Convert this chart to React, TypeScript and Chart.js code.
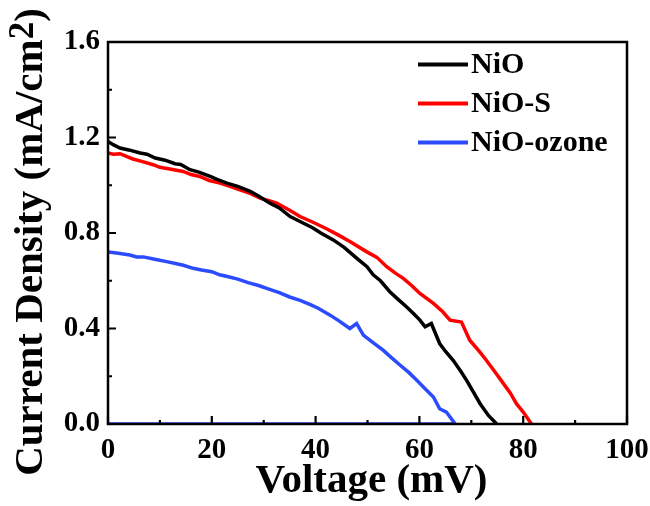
import React, { useEffect, useRef } from "react";
import { Chart, registerables } from "chart.js";

Chart.register(...registerables);

const FONT = "'Liberation Serif', 'Times New Roman', serif";

const xTicks = [0, 20, 40, 60, 80, 100];
const xMinorTicks = [10, 30, 50, 70, 90];
const yTicks = [0, 0.4, 0.8, 1.2, 1.6];
const yMinorTicks = [0.2, 0.6, 1.0, 1.4];

const xTitle = "Voltage (mV)";
const yTitleMain = "Current Density (mA/cm";
const yTitleSup = "2";
const yTitleEnd = ")";

const seriesLabels = ["NiO", "NiO-S", "NiO-ozone"];
const seriesColors = ["#000000", "#ff0000", "#2a4bff"];

const nioV = [0, 1, 2.3, 4, 6.2, 7.5, 9.1, 11, 12.9, 14, 15.8, 17.5, 19.7, 21, 22.9, 25, 27.4, 29, 31.2, 33, 35.1, 37, 39.5, 41, 43.4, 45.5, 47.9, 49.9, 51.1, 52.5, 54.3, 56, 57.5, 59, 60.1, 61.1, 62.3, 63.9, 65, 66.5, 68, 69.1, 70.5, 71.7, 73.3, 74.9];
const nioJ = [1.183, 1.17, 1.156, 1.148, 1.135, 1.13, 1.114, 1.105, 1.09, 1.087, 1.065, 1.055, 1.037, 1.025, 1.009, 0.995, 0.974, 0.955, 0.925, 0.905, 0.869, 0.848, 0.821, 0.8, 0.771, 0.74, 0.695, 0.659, 0.625, 0.6, 0.554, 0.52, 0.491, 0.46, 0.435, 0.407, 0.421, 0.337, 0.305, 0.267, 0.22, 0.183, 0.13, 0.085, 0.036, 0];

const nioSV = [0, 1, 2.3, 4.8, 6.5, 8.7, 10, 11.9, 14.5, 16, 17.7, 19.5, 21.6, 23.5, 25.4, 27.5, 29.3, 31, 32.5, 35, 37, 39.5, 42.1, 44.5, 46.6, 49.8, 51.8, 53.7, 55.5, 56.9, 58.5, 60.1, 62.7, 64.5, 65.9, 68.1, 69.7, 71.5, 72.9, 74.5, 76.2, 77.5, 78.7, 80, 81.6];
const nioSJ = [1.135, 1.13, 1.132, 1.11, 1.1, 1.086, 1.075, 1.068, 1.058, 1.045, 1.037, 1.02, 1.009, 0.995, 0.981, 0.965, 0.946, 0.935, 0.925, 0.895, 0.869, 0.845, 0.818, 0.79, 0.764, 0.722, 0.698, 0.659, 0.63, 0.61, 0.58, 0.547, 0.505, 0.47, 0.435, 0.427, 0.351, 0.305, 0.267, 0.22, 0.169, 0.13, 0.085, 0.05, 0];

const ozoneV = [0, 2, 4.2, 5.5, 6.8, 9, 11.3, 13, 14.5, 16.4, 18, 20, 21.5, 23, 25, 27, 29, 31, 33, 35, 37, 39, 40.5, 42.8, 44.5, 46.6, 47.9, 49.2, 51, 53, 54.5, 56.3, 58, 59.5, 61, 62.7, 63.9, 65.2, 66.9, 0];
const ozoneJ = [0.72, 0.715, 0.708, 0.7, 0.7, 0.69, 0.68, 0.672, 0.665, 0.652, 0.645, 0.638, 0.625, 0.618, 0.607, 0.592, 0.58, 0.565, 0.55, 0.532, 0.518, 0.5, 0.485, 0.456, 0.432, 0.4, 0.421, 0.372, 0.342, 0.309, 0.28, 0.246, 0.215, 0.183, 0.15, 0.113, 0.064, 0.05, 0, 0];

const seriesV = [nioV, nioSV, ozoneV];
const seriesJ = [nioJ, nioSJ, ozoneJ];

const framePlugin = {
  id: "framePlugin",
  afterDatasetsDraw(chart: any) {
    const { ctx, chartArea: a, scales } = chart;
    const xs = scales.x;
    const ys = scales.y;
    ctx.save();
    // frame
    ctx.strokeStyle = "#000";
    ctx.lineWidth = 2.5;
    ctx.strokeRect(a.left, a.top, a.right - a.left, a.bottom - a.top);
    // inward ticks
    ctx.lineWidth = 2.2;
    ctx.beginPath();
    xTicks.forEach((v) => {
      const p = xs.getPixelForValue(v);
      ctx.moveTo(p, a.bottom);
      ctx.lineTo(p, a.bottom - 8);
    });
    xMinorTicks.forEach((v) => {
      const p = xs.getPixelForValue(v);
      ctx.moveTo(p, a.bottom);
      ctx.lineTo(p, a.bottom - 4);
    });
    yTicks.forEach((v) => {
      const p = ys.getPixelForValue(v);
      ctx.moveTo(a.left, p);
      ctx.lineTo(a.left + 8, p);
    });
    yMinorTicks.forEach((v) => {
      const p = ys.getPixelForValue(v);
      ctx.moveTo(a.left, p);
      ctx.lineTo(a.left + 4, p);
    });
    ctx.stroke();

    // legend
    const lx = a.right - 209;
    chart.data.datasets.forEach((ds: any, i: number) => {
      const ly = a.top + 22.5 + i * 39;
      ctx.strokeStyle = ds.borderColor;
      ctx.lineWidth = 4;
      ctx.beginPath();
      ctx.moveTo(lx, ly);
      ctx.lineTo(lx + 50, ly);
      ctx.stroke();
      ctx.fillStyle = "#000";
      ctx.font = `bold 30px ${FONT}`;
      ctx.textAlign = "left";
      ctx.textBaseline = "middle";
      ctx.fillText(ds.label, lx + 53, ly + 1);
    });

    // x title
    ctx.fillStyle = "#000";
    ctx.font = `bold 41px ${FONT}`;
    ctx.textAlign = "center";
    ctx.textBaseline = "middle";
    ctx.fillText(xTitle, (a.left + a.right) / 2 + 4, 481);

    // y title with superscript
    ctx.save();
    ctx.translate(0, 242);
    ctx.rotate(-Math.PI / 2);
    ctx.textAlign = "left";
    ctx.textBaseline = "alphabetic";
    const mainFont = `bold 41px ${FONT}`;
    const supFont = `bold 35px ${FONT}`;
    ctx.font = mainFont;
    const w1 = ctx.measureText(yTitleMain).width;
    const w3 = ctx.measureText(yTitleEnd).width;
    ctx.font = supFont;
    const w2 = ctx.measureText(yTitleSup).width;
    const total = w1 + w2 + w3;
    let sx = -total / 2;
    const base = 42;
    ctx.font = mainFont;
    ctx.fillText(yTitleMain, sx, base);
    sx += w1;
    ctx.font = supFont;
    ctx.fillText(yTitleSup, sx, base - 9);
    sx += w2;
    ctx.font = mainFont;
    ctx.fillText(yTitleEnd, sx, base);
    ctx.restore();

    ctx.restore();
  },
};

export default function App() {
  const canvasRef = useRef<HTMLCanvasElement | null>(null);

  useEffect(() => {
    document.body.style.margin = "0";
    const canvas = canvasRef.current;
    if (!canvas) return;
    const datasets = seriesLabels.map((label, i) => ({
      label,
      data: seriesV[i].map((v, k) => ({ x: v, y: seriesJ[i][k] })),
      borderColor: seriesColors[i],
      backgroundColor: seriesColors[i],
      borderWidth: 3.5,
      pointRadius: 0,
      tension: 0,
      fill: false,
    }));
    const tickFont = { family: FONT, size: 29, weight: "bold" as const };
    const chart = new Chart(canvas, {
      type: "line",
      data: { datasets },
      options: {
        animation: false,
        responsive: false,
        maintainAspectRatio: false,
        layout: { padding: { top: 42, right: 23, left: 0, bottom: 0 } },
        plugins: {
          legend: { display: false },
          tooltip: { enabled: false },
        },
        scales: {
          x: {
            type: "linear",
            min: 0,
            max: 100,
            afterBuildTicks: (s: any) => {
              s.ticks = xTicks.map((v) => ({ value: v }));
            },
            afterFit: (s: any) => {
              s.height = 82;
              s.paddingLeft = 0;
              s.paddingRight = 0;
            },
            grid: { display: false, drawTicks: false },
            border: { display: false },
            ticks: {
              font: tickFont,
              color: "#000",
              padding: 9,
              maxRotation: 0,
              callback: (v: any) => String(v),
            },
          },
          y: {
            type: "linear",
            min: 0,
            max: 1.6,
            afterBuildTicks: (s: any) => {
              s.ticks = yTicks.map((v) => ({ value: v }));
            },
            afterFit: (s: any) => {
              s.width = 108;
              s.paddingTop = 0;
              s.paddingBottom = 0;
            },
            grid: { display: false, drawTicks: false },
            border: { display: false },
            ticks: {
              font: tickFont,
              color: "#000",
              padding: 8,
              callback: (v: any) => Number(v).toFixed(1),
            },
          },
        },
      },
      plugins: [framePlugin],
    });
    return () => chart.destroy();
  }, []);

  return (
    <div style={{ width: 650, height: 506, background: "#fff" }}>
      <canvas ref={canvasRef} width={650} height={506} style={{ width: 650, height: 506, display: "block" }} />
    </div>
  );
}
